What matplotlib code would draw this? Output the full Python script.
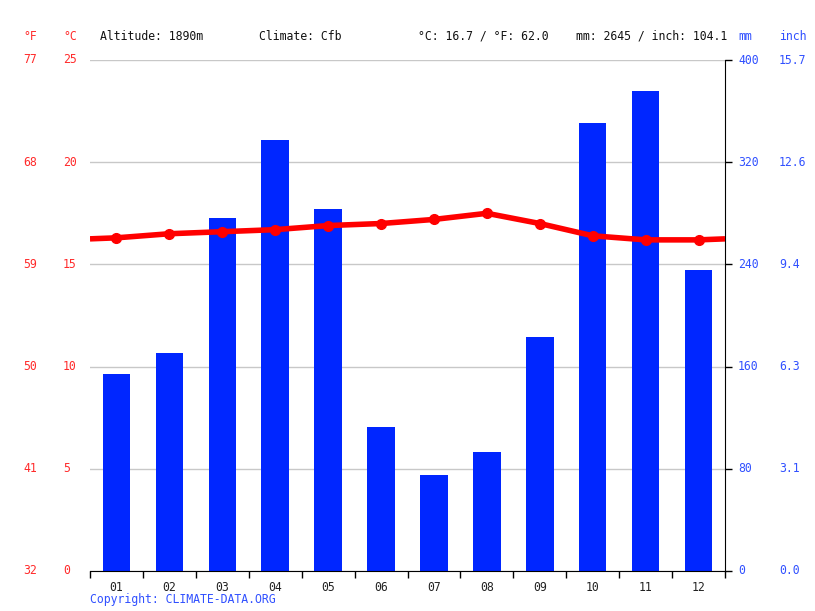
import matplotlib.pyplot as plt
from matplotlib.ticker import FixedLocator
import matplotlib.transforms as mtransforms

# data
months = ['01', '02', '03', '04', '05', '06', '07', '08', '09', '10', '11', '12']
precip_mm = [154, 171, 276, 337, 283, 113, 75, 93, 183, 351, 376, 236]
temp_c = [16.3, 16.5, 16.6, 16.7, 16.9, 17.0, 17.2, 17.5, 17.0, 16.4, 16.2, 16.2]

temp_ticks = [0, 5, 10, 15, 20, 25]
temp_f_labels = ['32', '41', '50', '59', '68', '77']
mm_ticks = [0, 80, 160, 240, 320, 400]
inch_labels = ['0.0', '3.1', '6.3', '9.4', '12.6', '15.7']

header_left = ['Altitude: 1890m', 'Climate: Cfb']
header_right = ['°C: 16.7 / °F: 62.0', 'mm: 2645 / inch: 104.1']

RED = '#ff0000'
RED_TXT = '#ff2a2a'
BLUE = '#0026ff'
BLUE_TXT = '#3050ff'
FONT = 'DejaVu Sans Mono'
FS = 8.3

plt.rcParams['font.family'] = FONT

W, H = 815, 611
fig = plt.figure(figsize=(W / 100, H / 100), dpi=100)
ax = fig.add_axes([90 / W, (H - 571) / H, (725 - 90) / W, (571 - 60) / H])

x = list(range(1, 13))

# precipitation bars
ax.bar(x, precip_mm, width=0.52, color=BLUE, zorder=2)
ax.set_xlim(0.5, 12.5)
ax.set_ylim(0, 400)
ax.yaxis.set_major_locator(FixedLocator(mm_ticks))
ax.grid(axis='y', color='#c8c8c8', linewidth=1, zorder=0)
ax.set_axisbelow(True)
ax.set_xticks(x)
ax.set_xticklabels(months, fontsize=FS, color='#222222')
ax.tick_params(axis='x', which='major', length=0, pad=7)
ax.set_xticks([i + 0.5 for i in range(0, 13)], minor=True)
ax.tick_params(axis='x', which='minor', length=5, width=1, color='black')
for s in ['top', 'left']:
    ax.spines[s].set_visible(False)
ax.spines['right'].set_color('black')
ax.spines['bottom'].set_color('black')

# temperature line on twin axis
axt = ax.twinx()
axt.set_ylim(0, 25)
axt.set_yticks([])
for s in axt.spines.values():
    s.set_visible(False)
edge = (temp_c[0] + temp_c[-1]) / 2
axt.plot([0.5] + x + [12.5], [edge] + temp_c + [edge], color=RED,
         linewidth=4, solid_capstyle='butt', zorder=3)
axt.plot(x, temp_c, 'o', color=RED, markersize=7, zorder=4)

# twinx moves the original ticks to the left, put them back on the right
ax.tick_params(axis='y', left=False, right=True, labelleft=False,
               labelright=False, length=5, width=1, color='black')

# axis label columns
def col_px(px):
    return (px - 90) / (725 - 90)

tr = mtransforms.blended_transform_factory(ax.transAxes, axt.transData)
for t, f in zip(temp_ticks, temp_f_labels):
    axt.text(col_px(23), t, f, transform=tr, color=RED_TXT, fontsize=FS,
             ha='left', va='center', clip_on=False)
    axt.text(col_px(63), t, str(t), transform=tr, color=RED_TXT, fontsize=FS,
             ha='left', va='center', clip_on=False)

tr2 = mtransforms.blended_transform_factory(ax.transAxes, ax.transData)
for m, inch in zip(mm_ticks, inch_labels):
    ax.text(col_px(738), m, str(m), transform=tr2, color=BLUE_TXT, fontsize=FS,
            ha='left', va='center', clip_on=False)
    ax.text(col_px(779), m, inch, transform=tr2, color=BLUE_TXT, fontsize=FS,
            ha='left', va='center', clip_on=False)

# header row
hy = 1 - 36 / H
fig.text(23 / W, hy, '°F', color=RED_TXT, fontsize=FS, va='center')
fig.text(63 / W, hy, '°C', color=RED_TXT, fontsize=FS, va='center')
fig.text(738 / W, hy, 'mm', color=BLUE_TXT, fontsize=FS, va='center')
fig.text(779 / W, hy, 'inch', color=BLUE_TXT, fontsize=FS, va='center')
for px, s in zip([100, 259], header_left):
    fig.text(px / W, hy, s, color='#111111', fontsize=FS, va='center')
for px, s in zip([418, 576], header_right):
    fig.text(px / W, hy, s, color='#111111', fontsize=FS, va='center')

fig.text(90 / W, 1 - 599 / H, 'Copyright: CLIMATE-DATA.ORG', color=BLUE_TXT,
         fontsize=FS, va='center')

fig.savefig('out.png', dpi=100)
